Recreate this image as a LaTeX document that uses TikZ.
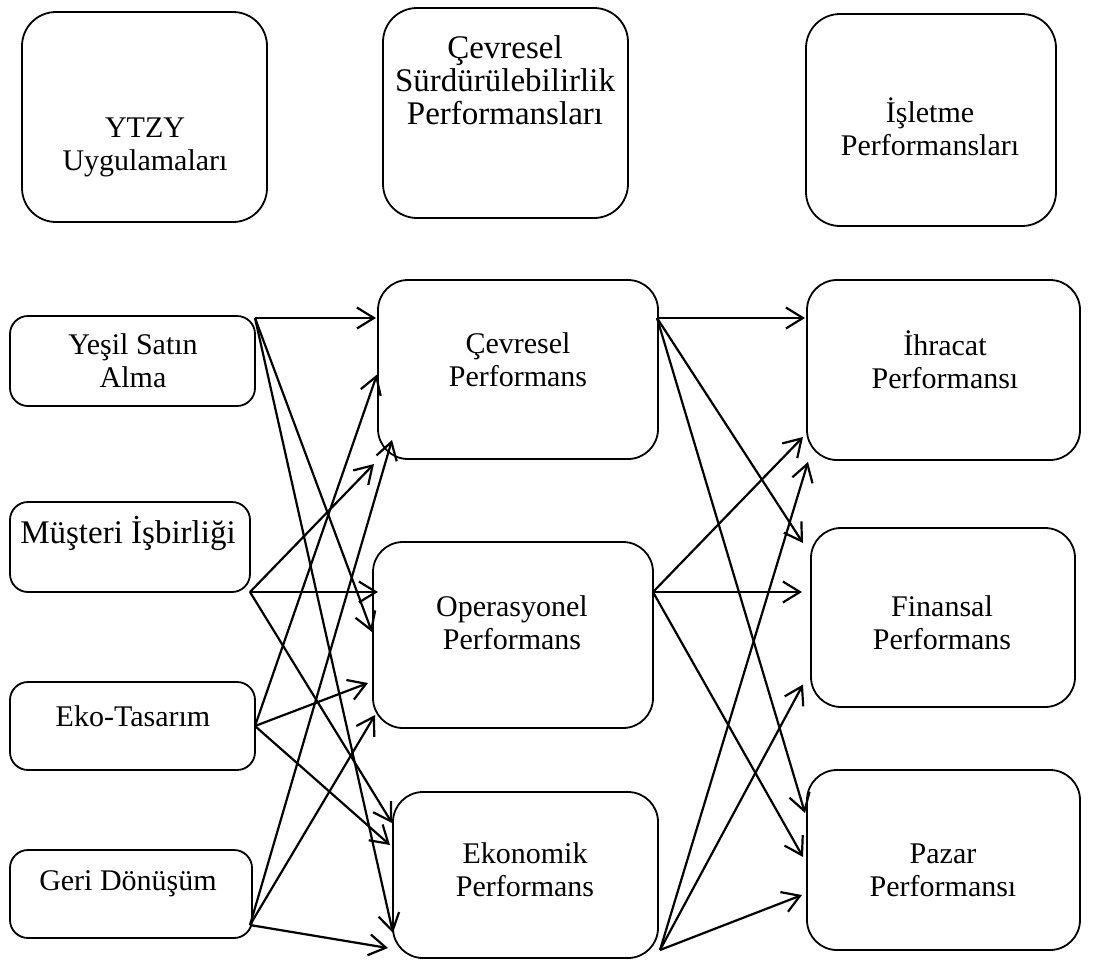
\documentclass[tikz,border=0pt]{standalone}
\usepackage{fontspec}
\setmainfont{Liberation Serif}
\usetikzlibrary{arrows.meta,calc}

\begin{document}
\begin{tikzpicture}[x=1pt,y=-1pt,
  frame/.style={draw,line width=1.8pt,inner sep=0pt,outer sep=0pt},
  hdr/.style={frame,rounded corners=34pt},
  src/.style={frame,rounded corners=18pt},
  mid/.style={frame,rounded corners=30pt},
  txt/.style={align=center,font=\fontsize{30}{33}\selectfont,inner sep=0pt},
  bigtxt/.style={txt,font=\fontsize{33}{33}\selectfont},
  arr/.style={line width=2.2pt,-{Straight Barb[length=17pt,width=21pt,line width=2.2pt]}}
]
\useasboundingbox (0,0) rectangle (1106,972);

% column headers
\node[hdr,minimum width=245pt,minimum height=210pt] (hA) at (144.5,117) {};
\node[hdr,minimum width=245pt,minimum height=210pt] (hB) at (505.5,113) {};
\node[hdr,minimum width=250pt,minimum height=212pt] (hC) at (931,120) {};
\node[txt] (hAt) at (145,147) {YTZY\\Uygulamaları};
\node[bigtxt] (hBt) at (505,80) {Çevresel\\Sürdürülebilirlik\\Performansları};
\node[txt] (hCt) at (930,127) {İşletme\\Performansları};

% practices
\node[src,minimum width=245pt,minimum height=90pt] (yes) at (132.5,361) {};
\node[src,minimum width=240pt,minimum height=90pt] (mus) at (130,547) {};
\node[src,minimum width=245pt,minimum height=88pt] (eko) at (132.5,726) {};
\node[src,minimum width=242pt,minimum height=88pt] (ger) at (131,894) {};
\node[txt] (yest) at (133,361) {Yeşil Satın\\Alma};
\node[bigtxt] (must) at (128,533) {Müşteri İşbirliği};
\node[txt] (ekot) at (133,716) {Eko-Tasarım};
\node[txt] (gert) at (128,884) {Geri Dönüşüm};

% sustainability performance
\node[mid,minimum width=280pt,minimum height=179pt] (cev) at (518,369.5) {};
\node[mid,minimum width=280pt,minimum height=186pt] (ope) at (513,635) {};
\node[mid,minimum width=265pt,minimum height=166pt] (ekn) at (525.5,875) {};
\node[txt] (cevt) at (518,360) {Çevresel\\Performans};
\node[txt] (opet) at (512,623) {Operasyonel\\Performans};
\node[txt] (eknt) at (525,870) {Ekonomik\\Performans};

% business performance
\node[mid,minimum width=273pt,minimum height=180pt] (ihr) at (943.5,370) {};
\node[mid,minimum width=264pt,minimum height=179pt] (fin) at (943,617.5) {};
\node[mid,minimum width=273pt,minimum height=180pt] (paz) at (943.5,860) {};
\node[txt] (ihrt) at (945,360) {İhracat\\Performansı};
\node[txt] (fint) at (942,623) {Finansal\\Performans};
\node[txt] (pazt) at (943,870) {Pazar\\Performansı};

% arrow start points
\coordinate (yO) at ($(yes.north east)+(0,2)$);
\coordinate (mO) at (mus.south east);
\coordinate (eO) at (eko.east);
\coordinate (gO) at ($(ger.south east)+(-2,-13)$);
\coordinate (cO) at ($(cev.north east)+(-1,38)$);
\coordinate (oO) at ($(ope.east)+(0,-43)$);
\coordinate (kO) at ($(ekn.south east)+(2,-8)$);

% practices -> sustainability performance
\draw[arr] (yO) -- ($(cev.west |- yO)+(-2,0)$);
\draw[arr] (yO) -- ($(ope.west)+(-1,-3)$);
\draw[arr] (yO) -- ($(ekn.west)+(0,58)$);
\draw[arr] (mO) -- ($(cev.south west)+(-4,5)$);
\draw[arr] (mO) -- ($(ope.west |- mO)+(5,0)$);
\draw[arr] (mO) -- ($(ekn.west)+(-1,-52)$);
\draw[arr] (eO) -- ($(cev.west)+(-1,5)$);
\draw[arr] (eO) -- ($(ope.west)+(-5,48)$);
\draw[arr] (eO) -- ($(ekn.west)+(-3,-30)$);
\draw[arr] (gO) -- ($(cev.south west)+(14,-19)$);
\draw[arr] (gO) -- ($(ope.west)+(2,80)$);
\draw[arr] (gO) -- ($(ekn.west)+(-5,73)$);

% sustainability performance -> business performance
\draw[arr] (cO) -- ($(ihr.west |- cO)+(-2,0)$);
\draw[arr] (cO) -- ($(fin.north west)+(-8,15)$);
\draw[arr] (cO) -- ($(paz.west)+(-2,-47)$);
\draw[arr] (oO) -- ($(ihr.west)+(-4,67)$);
\draw[arr] (oO) -- ($(fin.west |- oO)+(-9,0)$);
\draw[arr] (oO) -- ($(paz.west)+(-4,-3)$);
\draw[arr] (kO) -- ($(ihr.south west)+(1,2)$);
\draw[arr] (kO) -- ($(fin.west)+(-8,67)$);
\draw[arr] (kO) -- ($(paz.west)+(-5,35)$);
\end{tikzpicture}
\end{document}
